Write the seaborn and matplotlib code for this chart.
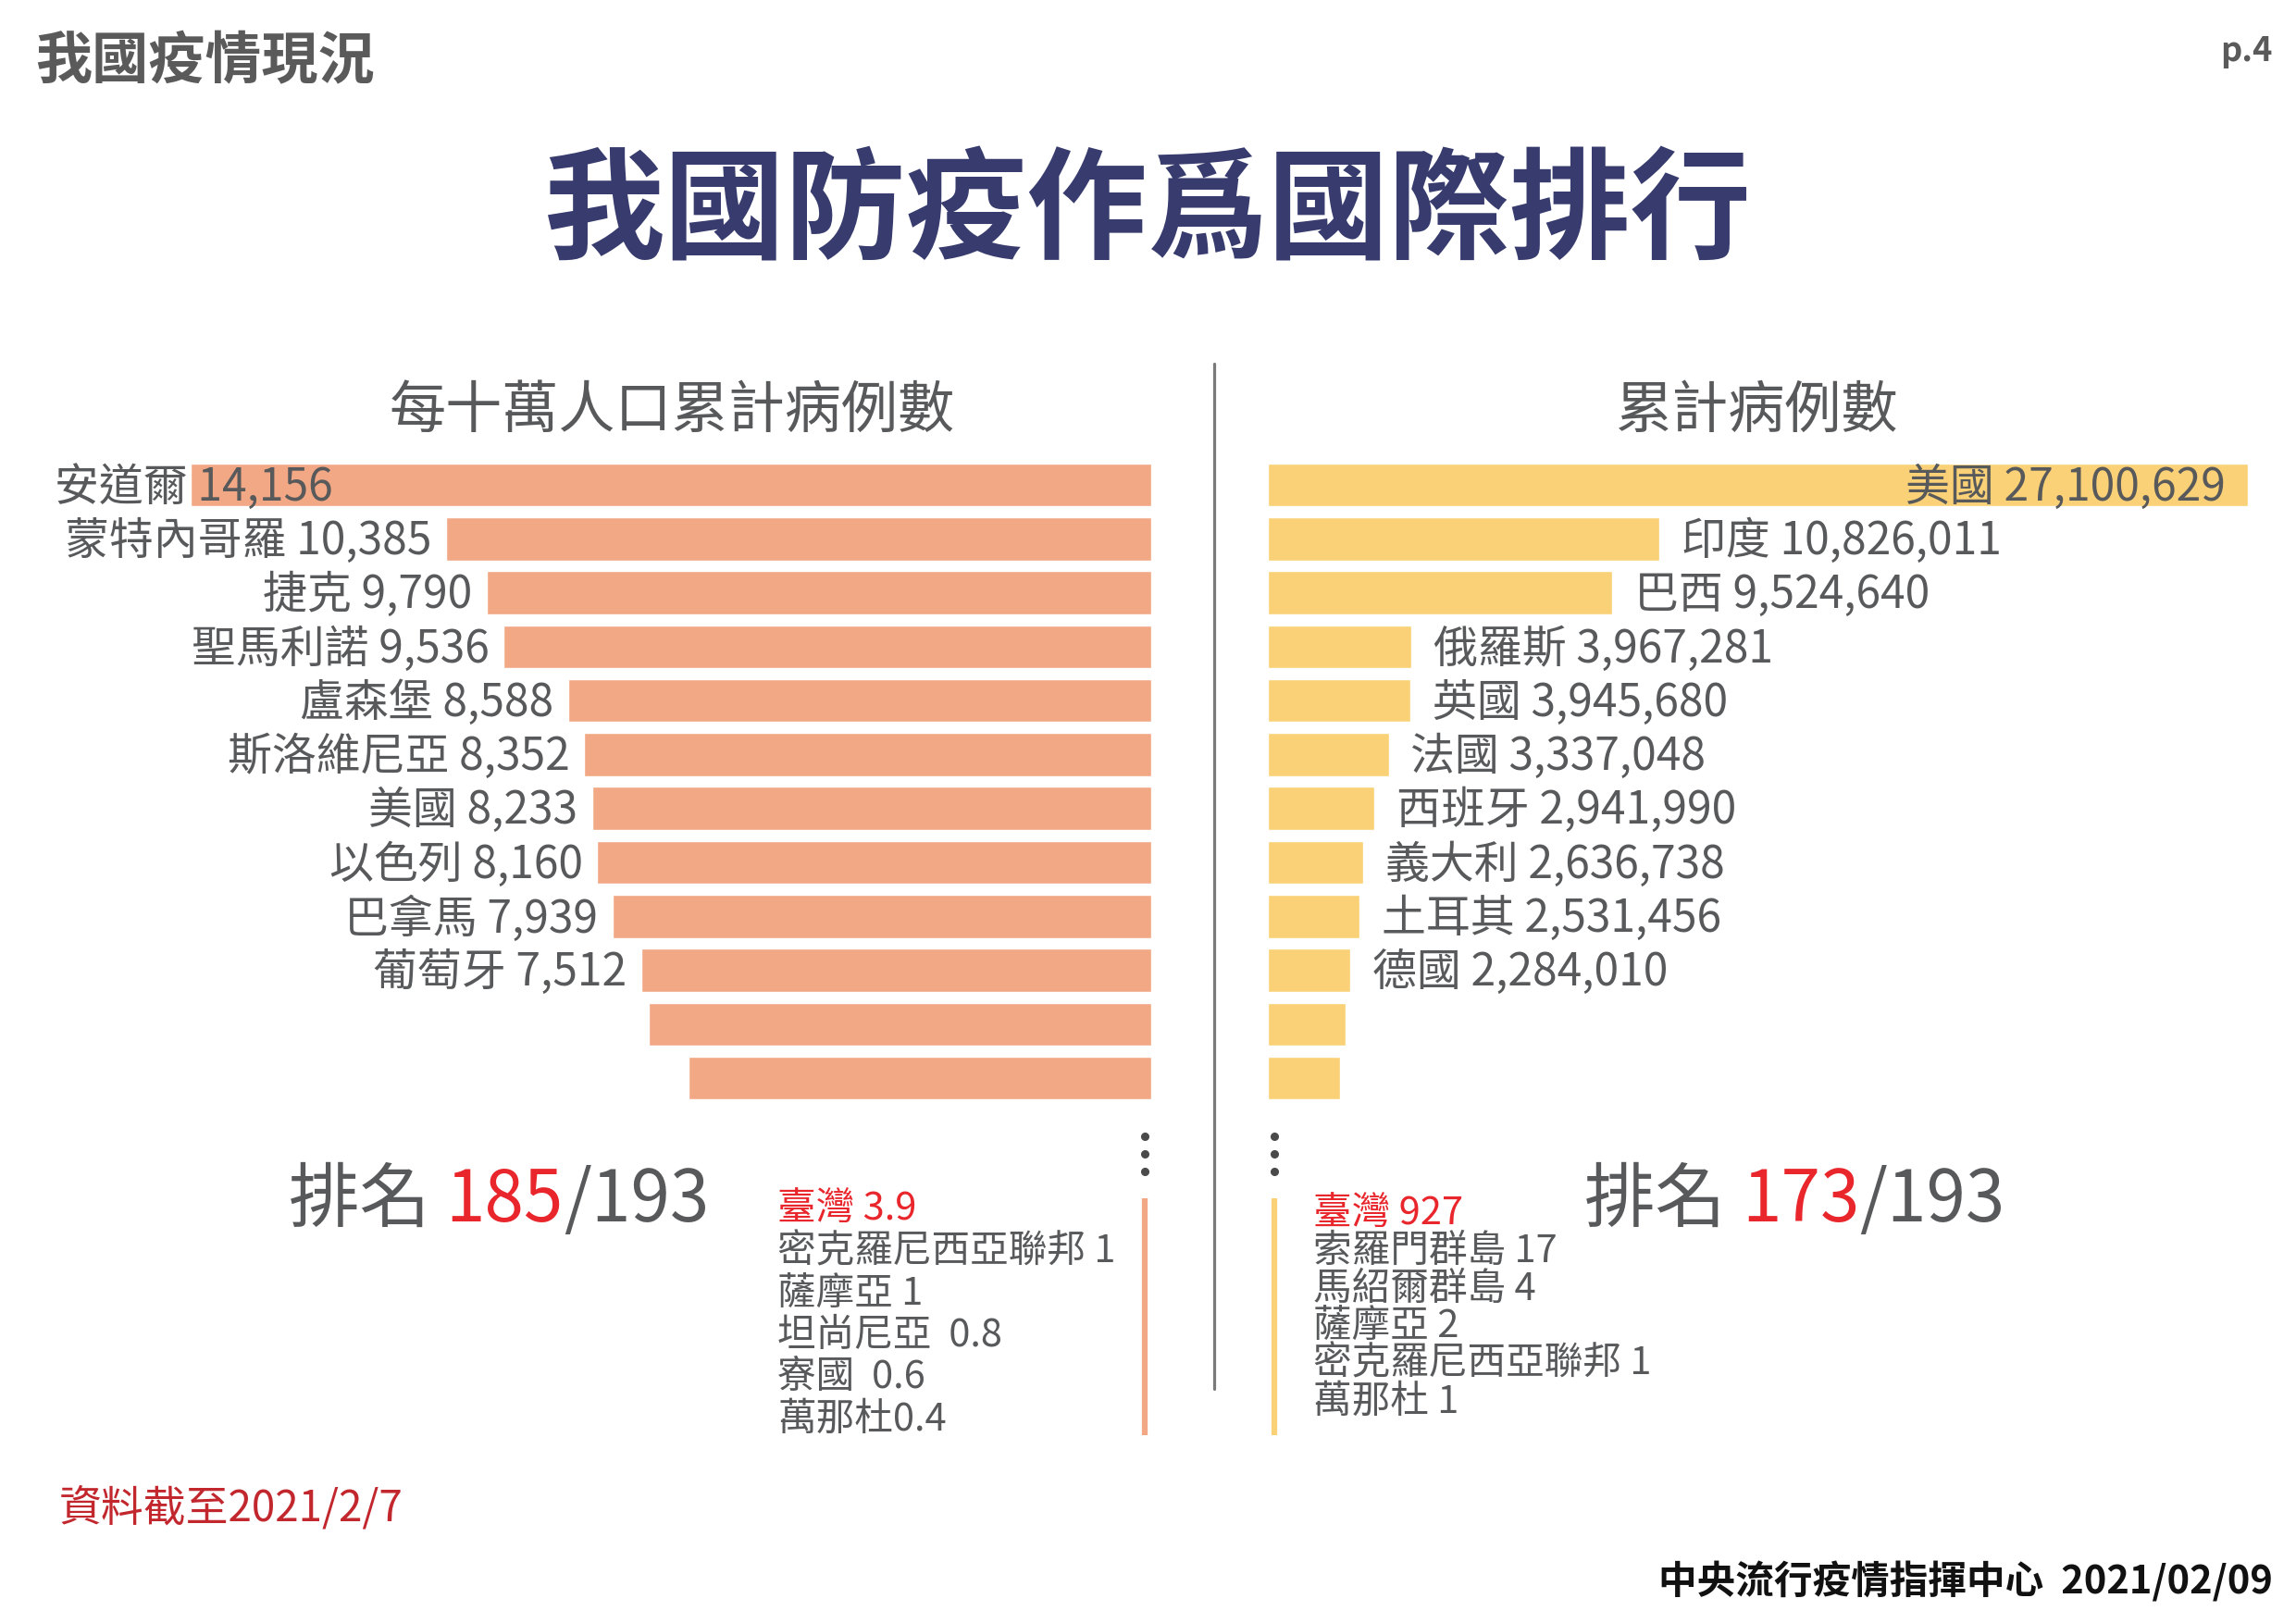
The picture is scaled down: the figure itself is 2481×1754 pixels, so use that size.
import matplotlib
matplotlib.use("Agg")
import matplotlib.pyplot as plt
import seaborn as sns
import pandas as pd

# per 100k population, top 12 (last two bars have no label)
left_countries = ["安道爾", "蒙特內哥羅", "捷克", "聖馬利諾", "盧森堡", "斯洛維尼亞",
                  "美國", "以色列", "巴拿馬", "葡萄牙", "", ""]
left_values = [14156, 10385, 9790, 9536, 8588, 8352, 8233, 8160, 7939, 7512, 7400, 6820]

# cumulative cases, top 12
right_countries = ["美國", "印度", "巴西", "俄羅斯", "英國", "法國",
                   "西班牙", "義大利", "土耳其", "德國", "", ""]
right_values = [27100629, 10826011, 9524640, 3967281, 3945680, 3337048,
                2941990, 2636738, 2531456, 2284010, 2150000, 1990000]

# bottom of the ranking
left_tail_names = ["臺灣", "密克羅尼西亞聯邦", "薩摩亞", "坦尚尼亞", "寮國", "萬那杜"]
left_tail_values = ["3.9", "1", "1", "0.8", "0.6", "0.4"]
left_tail_seps = [" ", " ", " ", "  ", "  ", ""]
right_tail_names = ["臺灣", "索羅門群島", "馬紹爾群島", "薩摩亞", "密克羅尼西亞聯邦", "萬那杜"]
right_tail_values = ["927", "17", "4", "2", "1", "1"]

rank_left = 185
rank_right = 173
rank_total = 193

sns.set_theme(style="white")
plt.rcParams["font.family"] = ["Noto Sans CJK TC", "DejaVu Sans"]

ORANGE = "#F2A884"
YELLOW = "#FAD177"
GRAY = "#58595B"
RED = "#E8262B"
NAVY = "#373B6D"

W, H = 1568, 1108  # layout grid (reference pixels / 1.582)
fig = plt.figure(figsize=(24.81, 17.54), dpi=100)

bg = fig.add_axes([0, 0, 1, 1])
bg.set_xlim(0, W)
bg.set_ylim(H, 0)
bg.axis("off")


def frame(x0, x1, y0, y1):
    return [x0 / W, 1 - y1 / H, (x1 - x0) / W, (y1 - y0) / H]


# headers
bg.text(24, 43, "我國疫情現況", fontsize=44, fontweight="bold", color="#5A5A5A",
        ha="left", va="center")
bg.text(1552, 35, "p.4", fontsize=26, fontweight="bold", color="#5A5A5A",
        ha="right", va="center")
bg.text(784, 146, "我國防疫作爲國際排行", fontsize=94, fontweight="heavy", color=NAVY,
        ha="center", va="center")
bg.text(459, 281, "每十萬人口累計病例數", fontsize=44, color=GRAY, ha="center", va="center")
bg.text(1200, 281, "累計病例數", fontsize=44, color=GRAY, ha="center", va="center")

# divider
bg.plot([829, 829], [248, 948], color="#7A7A7A", lw=2.3)

LABEL_FS = 34.5

# left bars
axl = fig.add_axes(frame(130, 786, 312.6, 754.4))
df_l = pd.DataFrame({"rank": range(len(left_values)), "value": left_values})
sns.barplot(data=df_l, x="value", y="rank", orient="h", color=ORANGE,
            saturation=1, width=0.8, ax=axl)
axl.set_xlim(max(left_values), 0)
axl.set_ylim(len(left_values) - 0.5, -0.5)
axl.axis("off")
gap_l = max(left_values) * 10 / 656
for i, (name, v) in enumerate(zip(left_countries, left_values)):
    if not name:
        continue
    label = f"{name} {v:,}"
    if i == 0:
        axl.text(v + max(left_values) * 93 / 656, i + 0.05, label, ha="left", va="center",
                 fontsize=LABEL_FS, color=GRAY)
    else:
        axl.text(v + gap_l, i + 0.05, label, ha="right", va="center",
                 fontsize=LABEL_FS, color=GRAY)

# right bars
axr = fig.add_axes(frame(866, 1535, 312.6, 754.4))
df_r = pd.DataFrame({"rank": range(len(right_values)), "value": right_values})
sns.barplot(data=df_r, x="value", y="rank", orient="h", color=YELLOW,
            saturation=1, width=0.8, ax=axr)
axr.set_xlim(0, max(right_values))
axr.set_ylim(len(right_values) - 0.5, -0.5)
axr.axis("off")
gap_r = max(right_values) * 15 / 669
for i, (name, v) in enumerate(zip(right_countries, right_values)):
    if not name:
        continue
    label = f"{name} {v:,}"
    if i == 0:
        axr.text(v - max(right_values) * 15 / 669, i + 0.05, label, ha="right", va="center",
                 fontsize=LABEL_FS, color=GRAY)
    else:
        axr.text(v + gap_r, i + 0.05, label, ha="left", va="center",
                 fontsize=LABEL_FS, color=GRAY)

# continuation dots and side lines
for x, c in [(782, ORANGE), (870, YELLOW)]:
    bg.plot([x] * 3, [776, 788, 800], "o", color="#4A4A4A", markersize=5.5)
    bg.plot([x, x], [818, 980], color=c, lw=4.5, solid_capstyle="butt")

renderer = fig.canvas.get_renderer()


def rich_text(x, y, parts, **kw):
    for s, c in parts:
        t = bg.text(x, y, s, color=c, ha="left", va="center", **kw)
        bb = t.get_window_extent(renderer)
        x = bg.transData.inverted().transform((bb.x1, bb.y0))[0]


rich_text(197, 820, [("排名 ", GRAY), (str(rank_left), RED), (f"/{rank_total}", GRAY)],
          fontsize=55)
rich_text(1082, 820, [("排名 ", GRAY), (str(rank_right), RED), (f"/{rank_total}", GRAY)],
          fontsize=55)

# tail lists
for k, (n, v, s) in enumerate(zip(left_tail_names, left_tail_values, left_tail_seps)):
    bg.text(531, 826 + k * 28.6, f"{n}{s}{v}", fontsize=30, ha="left", va="center",
            color=RED if k == 0 else GRAY)
for k, (n, v) in enumerate(zip(right_tail_names, right_tail_values)):
    bg.text(897, 829 + k * 25.6, f"{n} {v}", fontsize=30, ha="left", va="center",
            color=RED if k == 0 else GRAY)

# footer
bg.text(40, 1030, "資料截至2021/2/7", fontsize=33, color="#C1272D", ha="left", va="center")
bg.text(1552, 1080, "中央流行疫情指揮中心  2021/02/09", fontsize=30, fontweight="bold",
        color="#111111", ha="right", va="center")

fig.savefig("out.png", dpi=100, facecolor="white")
